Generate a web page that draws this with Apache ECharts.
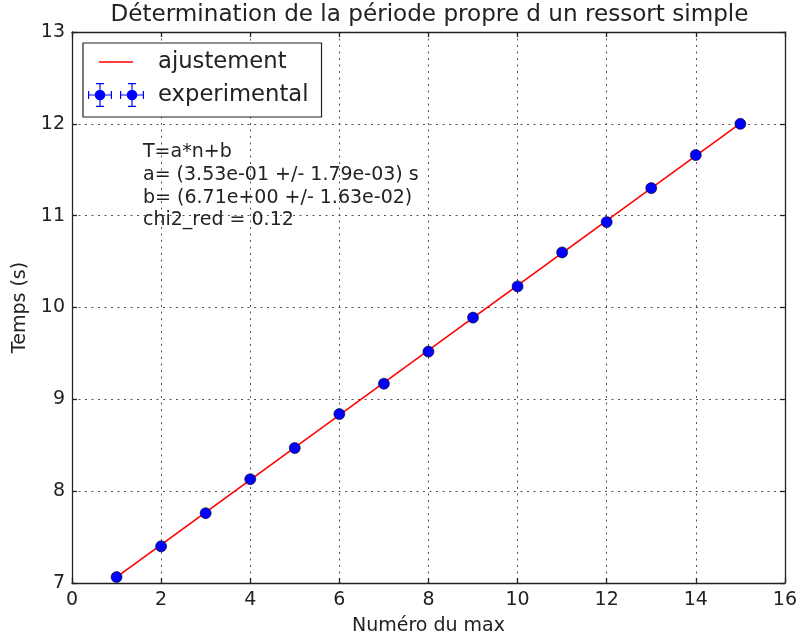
<!DOCTYPE html>
<html>
<head>
<meta charset="utf-8">
<script src="https://cdn.jsdelivr.net/npm/echarts@6/dist/echarts.min.js"></script>
<style>html,body{margin:0;padding:0;background:#fff}#c{width:800px;height:641px}</style>
</head>
<body>
<div id="c"></div>
<script>
// ---- data ----
var nValues = [1, 2, 3, 4, 5, 6, 7, 8, 9, 10, 11, 12, 13, 14, 15];
var tValues = [7.065, 7.40, 7.76, 8.13, 8.47, 8.84, 9.17, 9.52, 9.89, 10.23, 10.60, 10.93, 11.30, 11.66, 12.00];
var fitN = [1, 15];
var fitT = [7.063, 12.005];
var titleText = 'Détermination de la période propre d un ressort simple';
var xName = 'Numéro du max';
var yName = 'Temps (s)';
var seriesNames = ['ajustement', 'experimental'];
var annotationLines = ['T=a*n+b', 'a= (3.53e-01 +/- 1.79e-03) s', 'b= (6.71e+00 +/- 1.63e-02)', 'chi2_red = 0.12'];

var FONT = 'DejaVu Sans';

// legend icons (56 x 24 box)
function markerPath(cx) {
  return 'M' + (cx - 12) + ',11.4 H' + (cx + 12) + ' V12.6 H' + (cx - 12) + ' Z ' +
    'M' + (cx - 0.6) + ',0 H' + (cx + 0.6) + ' V24 H' + (cx - 0.6) + ' Z ' +
    'M' + (cx - 4) + ',0 H' + (cx + 4) + ' V1.2 H' + (cx - 4) + ' Z ' +
    'M' + (cx - 4) + ',22.8 H' + (cx + 4) + ' V24 H' + (cx - 4) + ' Z ' +
    'M' + (cx - 12) + ',8 H' + (cx - 10.8) + ' V16 H' + (cx - 12) + ' Z ' +
    'M' + (cx + 10.8) + ',8 H' + (cx + 12) + ' V16 H' + (cx + 10.8) + ' Z ' +
    'M' + (cx + 5.3) + ',12 A5.3,5.3 0 1,1 ' + (cx - 5.3) + ',12 A5.3,5.3 0 1,1 ' + (cx + 5.3) + ',12 Z';
}
var expIcon = 'path://' + markerPath(12) + ' ' + markerPath(44);
var fitIcon = 'path://M0,0 L0.01,0 L0,0.01 Z M56,24 L55.99,24 L56,23.99 Z M11,11.25 H45 V12.75 H11 Z';

var fitData = fitN.map(function (n, i) { return [n, fitT[i]]; });
var expData = nValues.map(function (n, i) { return [n, tValues[i]]; });

var axisLineStyle = { color: '#222', width: 1.3 };
var gridLine = { show: true, lineStyle: { color: '#555', width: 1, type: [2, 4.5] } };

var chart = echarts.init(document.getElementById('c'), null, { renderer: 'canvas' });
chart.setOption({
  animation: false,
  backgroundColor: '#fff',
  textStyle: { fontFamily: FONT },
  grid: { left: 72, right: 13, top: 32, bottom: 58, containLabel: false },
  xAxis: [{
    type: 'value', min: 0, max: 16, interval: 2, position: 'bottom',
    name: xName, nameLocation: 'middle', nameGap: 34,
    nameTextStyle: { fontFamily: FONT, fontSize: 19, color: '#222' },
    axisLine: { show: true, onZero: false, lineStyle: axisLineStyle },
    axisTick: { show: true, inside: true, length: 5, lineStyle: axisLineStyle },
    axisLabel: { fontFamily: FONT, fontSize: 19, color: '#222', margin: 8 },
    splitLine: gridLine
  }, {
    type: 'value', min: 0, max: 16, interval: 2, position: 'top',
    axisLine: { show: true, onZero: false, lineStyle: axisLineStyle },
    axisTick: { show: true, inside: true, length: 5, lineStyle: axisLineStyle },
    axisLabel: { show: false }, splitLine: { show: false }
  }],
  yAxis: [{
    type: 'value', min: 7, max: 13, interval: 1, position: 'left',
    name: yName, nameLocation: 'middle', nameGap: 40, nameRotate: 90,
    nameTextStyle: { fontFamily: FONT, fontSize: 19, color: '#222' },
    axisLine: { show: true, onZero: false, lineStyle: axisLineStyle },
    axisTick: { show: true, inside: true, length: 5, lineStyle: axisLineStyle },
    axisLabel: { fontFamily: FONT, fontSize: 19, color: '#222', margin: 7 },
    splitLine: gridLine
  }, {
    type: 'value', min: 7, max: 13, interval: 1, position: 'right',
    axisLine: { show: true, onZero: false, lineStyle: axisLineStyle },
    axisTick: { show: true, inside: true, length: 5, lineStyle: axisLineStyle },
    axisLabel: { show: false }, splitLine: { show: false }
  }],
  legend: {
    orient: 'vertical', left: 83, top: 43,
    backgroundColor: '#fff',
    borderColor: '#222', borderWidth: 1.2, borderRadius: 0,
    padding: [7, 13, 10, 5],
    itemWidth: 56, itemHeight: 24, itemGap: 9,
    symbolKeepAspect: false,
    itemStyle: { borderWidth: 0 },
    textStyle: { fontFamily: FONT, fontSize: 22.7, color: '#222', lineHeight: 24, padding: [0, 0, 0, 9] },
    selectedMode: false,
    data: [
      { name: seriesNames[0], icon: fitIcon, itemStyle: { color: '#ff0000', borderWidth: 0 } },
      { name: seriesNames[1], icon: expIcon, itemStyle: { color: '#0000ff', borderWidth: 0 } }
    ]
  },
  graphic: [
    {
      type: 'text', x: 429.5, y: 3.5, z: 10,
      style: { text: titleText, fontFamily: FONT, fontSize: 23.1, fill: '#222', align: 'center', textAlign: 'center' }
    },
    {
      type: 'text', x: 143, y: 141, z: 10,
      style: { text: annotationLines.join('\n'), fontFamily: FONT, fontSize: 19, lineHeight: 22.7, fill: '#222' }
    }
  ],
  series: [
    {
      name: seriesNames[0], type: 'line', data: fitData,
      symbol: 'none', lineStyle: { color: '#ff0000', width: 1.6 },
      itemStyle: { color: '#ff0000' }, z: 2
    },
    {
      name: seriesNames[1], type: 'scatter', data: expData,
      symbol: 'circle', symbolSize: 11,
      itemStyle: { color: '#0000ff', borderColor: '#000', borderWidth: 0.6, opacity: 1 },
      z: 3
    }
  ]
});
</script>
</body>
</html>
